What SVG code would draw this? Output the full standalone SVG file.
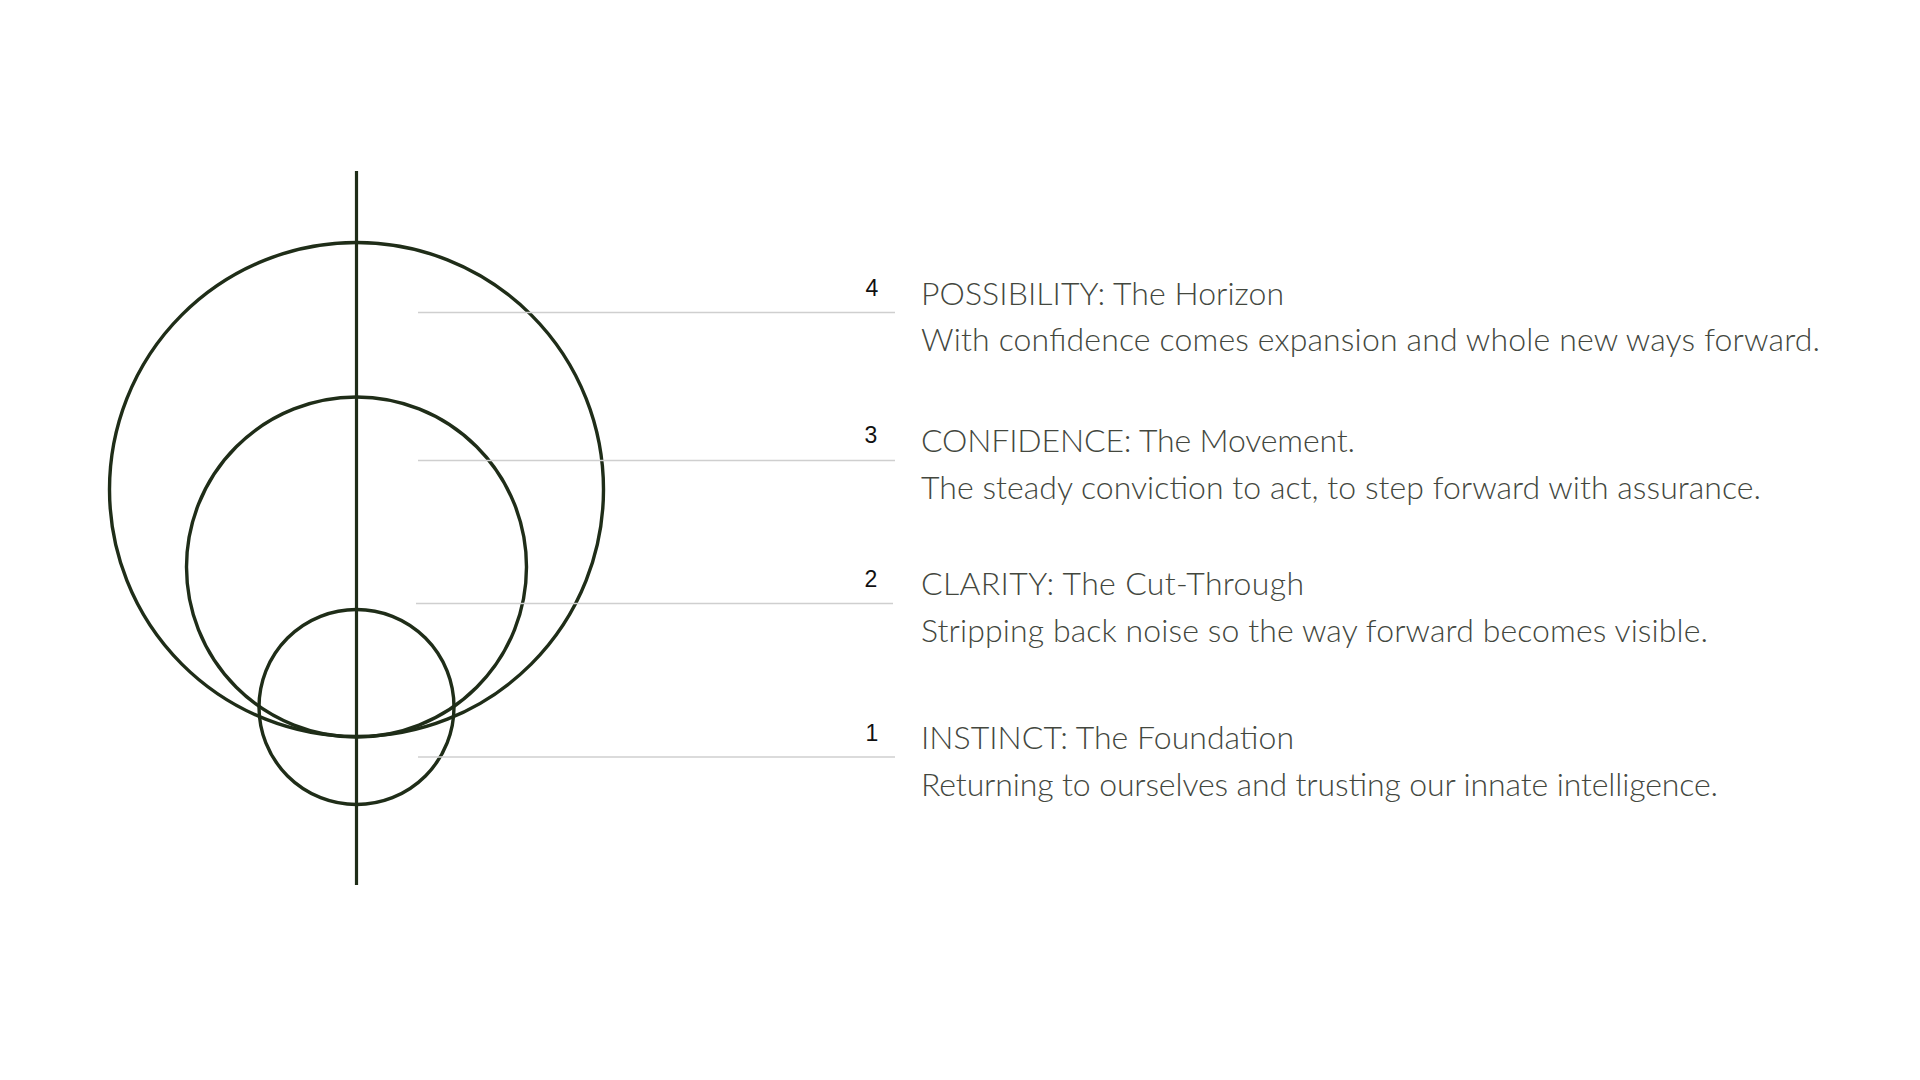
<svg xmlns="http://www.w3.org/2000/svg" width="1920" height="1080" viewBox="0 0 1920 1080">
<style>
.ring{fill:none;stroke:#1f2d18;stroke-width:3.4}
.axis{stroke:#1f2d18;stroke-width:3.2}
.guide{stroke:#cfcfcf;stroke-width:1.6}
.num{font-family:"Liberation Sans",Arial,sans-serif;font-size:23px;fill:#111;text-anchor:middle}
.t{font-family:Lato,"Open Sans",sans-serif;font-weight:300;font-size:32px;fill:#43473e}
</style>
<rect width="1920" height="1080" fill="#fff"/>
<g id="symbol">
<circle class="ring" cx="356.5" cy="489.5" r="247"/>
<circle class="ring" cx="356.5" cy="567" r="170"/>
<circle class="ring" cx="356.5" cy="707" r="97.5"/>
<line class="axis" x1="356.5" y1="171" x2="356.5" y2="885"/>
</g>
<g id="connectors">
<line class="guide" x1="418" y1="312.5" x2="895" y2="312.5"/>
<line class="guide" x1="418" y1="460.5" x2="895" y2="460.5"/>
<line class="guide" x1="416" y1="603.5" x2="893" y2="603.5"/>
<line class="guide" x1="418" y1="757" x2="895" y2="757"/>
</g>
<g id="level4">
<text class="num" x="872" y="296">4</text>
<text class="t" x="921" y="305" textLength="363">POSSIBILITY: The Horizon</text>
<text class="t" x="921" y="351" textLength="899">With confidence comes expansion and whole new ways forward.</text>
</g>
<g id="level3">
<text class="num" x="871" y="443">3</text>
<text class="t" x="921" y="452" textLength="434">CONFIDENCE: The Movement.</text>
<text class="t" x="921" y="499" textLength="840">The steady conviction to act, to step forward with assurance.</text>
</g>
<g id="level2">
<text class="num" x="871" y="587">2</text>
<text class="t" x="921" y="595" textLength="383">CLARITY: The Cut-Through</text>
<text class="t" x="921" y="642" textLength="787">Stripping back noise so the way forward becomes visible.</text>
</g>
<g id="level1">
<text class="num" x="872" y="741">1</text>
<text class="t" x="921" y="749" textLength="373">INSTINCT: The Foundation</text>
<text class="t" x="921" y="796" textLength="797">Returning to ourselves and trusting our innate intelligence.</text>
</g>
</svg>
